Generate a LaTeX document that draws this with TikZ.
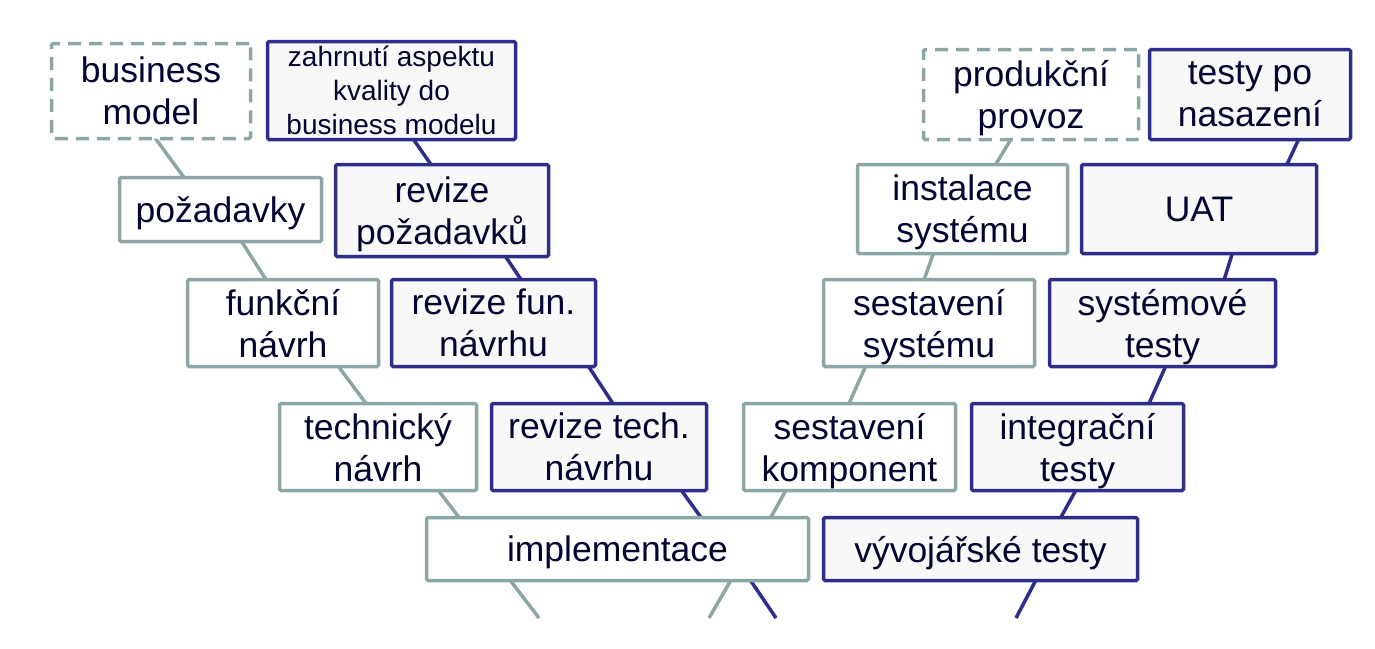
\documentclass[tikz,border=0pt]{standalone}
\usepackage{fontspec}
\setmainfont{Liberation Sans}
\usetikzlibrary{calc,backgrounds}
\definecolor{vgray}{RGB}{140,166,166}
\definecolor{vblue}{RGB}{46,46,138}
\definecolor{vfill}{RGB}{248,248,248}
\definecolor{vtext}{RGB}{5,5,50}
\tikzset{
  box/.style={rectangle, inner sep=0pt, align=center, text=vtext, text depth=0pt,
    font=\fontsize{35.5}{42}\selectfont, line width=3.5pt, rounded corners=1.5pt},
  graybox/.style={box, draw=vgray, fill=white},
  bluebox/.style={box, draw=vblue, fill=vfill},
  dashbox/.style={graybox, dash pattern=on 13pt off 8pt},
  gline/.style={draw=vgray, line width=3.5pt, shorten <=-4pt, shorten >=-4pt},
  bline/.style={draw=vblue, line width=3.5pt, shorten <=-4pt, shorten >=-4pt},
  gtail/.style={draw=vgray, line width=3.5pt, shorten <=-4pt},
  btail/.style={draw=vblue, line width=3.5pt, shorten <=-4pt},
}
\begin{document}
\begin{tikzpicture}[x=1pt,y=-1pt]
\useasboundingbox (0,0) rectangle (1375,648);
% left gray column
\node[dashbox, minimum width=199pt, minimum height=95pt] (bm) at (151,91) {business\\model};
\node[graybox, minimum width=202pt, minimum height=64pt] (poz) at (220.5,209.5) {požadavky};
\node[graybox, minimum width=191pt, minimum height=87pt] (fun) at (283,323) {funkční\\návrh};
\node[graybox, minimum width=197pt, minimum height=87pt] (tech) at (378,447) {technický\\návrh};
\node[graybox, minimum width=382pt, minimum height=63pt] (impl) at (617.5,549) {implementace};
% left blue column
\node[bluebox, minimum width=248pt, minimum height=98pt, font=\fontsize{28}{34}\selectfont] (zahr) at (391.5,90.5) {zahrnutí aspektu\\kvality do\\business modelu};
\node[bluebox, minimum width=213pt, minimum height=92pt] (revpoz) at (442,210.5) {revize\\požadavků};
\node[bluebox, minimum width=204pt, minimum height=87pt] (revfun) at (493.5,323) {revize fun.\\návrhu};
\node[bluebox, minimum width=215pt, minimum height=87pt] (revtech) at (599,447) {revize tech.\\návrhu};
% right gray column
\node[dashbox, minimum width=215pt, minimum height=90pt] (prod) at (1031,94.5) {produkční\\provoz};
\node[graybox, minimum width=210pt, minimum height=89pt] (inst) at (962.5,209) {instalace\\systému};
\node[graybox, minimum width=211pt, minimum height=87pt] (sestsys) at (929,323) {sestavení\\systému};
\node[graybox, minimum width=212pt, minimum height=87pt] (sestkomp) at (849.5,447) {sestavení\\komponent};
% right blue column
\node[bluebox, minimum width=201pt, minimum height=90pt] (testy) at (1250,94.5) {testy po\\nasazení};
\node[bluebox, minimum width=235pt, minimum height=89pt] (uat) at (1199,209) {UAT};
\node[bluebox, minimum width=226pt, minimum height=87pt] (systest) at (1162.5,323) {systémové\\testy};
\node[bluebox, minimum width=212pt, minimum height=87pt] (integ) at (1077.5,447) {integrační\\testy};
\node[bluebox, minimum width=314pt, minimum height=63pt] (vyv) at (980.5,549) {vývojářské testy};
% free ends
\coordinate (gtl) at (539,618);
\coordinate (btl) at (776,618);
\coordinate (gtr) at (709,618);
\coordinate (btr) at (1016,618);
\begin{scope}[on background layer]
% gray left
\path[gline] ($(bm.south west)+(107,0)$) -- ($(poz.north west)+(65,0)$);
\path[gline] ($(poz.south west)+(125,0)$) -- ($(fun.north west)+(79,0)$);
\path[gline] ($(fun.south west)+(154,0)$) -- ($(tech.north west)+(87,0)$);
\path[gline] ($(tech.south west)+(162,0)$) -- ($(impl.north west)+(33,0)$);
\path[gtail] ($(impl.south west)+(87,0)$) -- (gtl);
% blue left
\path[bline] ($(zahr.south west)+(149,0)$) -- ($(revpoz.north west)+(96,0)$);
\path[bline] ($(revpoz.south west)+(173,0)$) -- ($(revfun.north west)+(130,0)$);
\path[bline] ($(revfun.south west)+(200,0)$) -- ($(revtech.north west)+(122,0)$);
\path[bline] ($(revtech.south west)+(193,0)$) -- ($(impl.north west)+(275,0)$);
\path[btail] ($(impl.south west)+(327,0)$) -- (btl);
% gray right
\path[gline] ($(prod.south west)+(88,0)$) -- ($(inst.north west)+(141,0)$);
\path[gline] ($(inst.south west)+(77,0)$) -- ($(sestsys.north west)+(103,0)$);
\path[gline] ($(sestsys.south west)+(43,0)$) -- ($(sestkomp.north west)+(108,0)$);
\path[gline] ($(sestkomp.south west)+(43,0)$) -- ($(impl.north west)+(347,0)$);
\path[gtail] ($(impl.south west)+(305,0)$) -- (gtr);
% blue right
\path[bline] ($(testy.south west)+(150,0)$) -- ($(uat.north west)+(208,0)$);
\path[bline] ($(uat.south west)+(152,0)$) -- ($(systest.north west)+(177,0)$);
\path[bline] ($(systest.south west)+(117,0)$) -- ($(integ.north west)+(180,0)$);
\path[bline] ($(integ.south west)+(105,0)$) -- ($(vyv.north west)+(240,0)$);
\path[btail] ($(vyv.south west)+(213,0)$) -- (btr);
\end{scope}
\end{tikzpicture}
\end{document}
